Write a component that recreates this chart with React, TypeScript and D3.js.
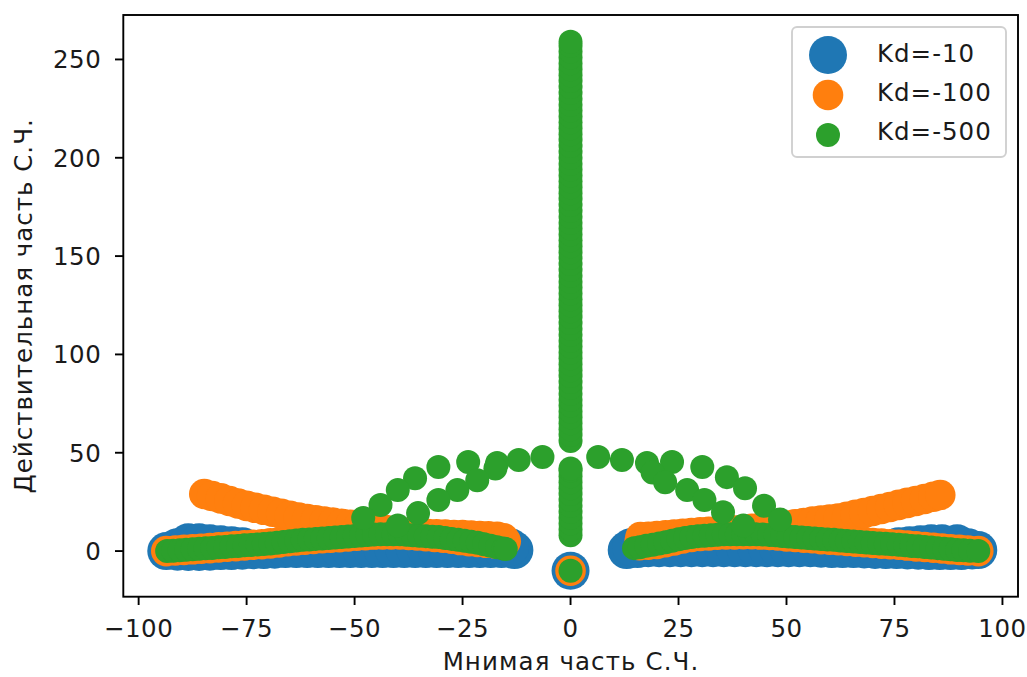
import React from 'react';
import * as d3 from 'd3';

// points are [imaginary part, real part]
const kd10Lower: [number, number][] = [
  [-93.6, 0], [-91, -0.3], [-88.5, -0.5], [-86, -0.5], [-83.5, -0.3], [-81, 0], [-78.5, 0],
  [-76, 0.2], [-73.5, 0.4], [-71, 0.5], [-68.5, 0.7], [-66, 1], [-63.5, 1], [-61, 1],
  [-58.5, 1], [-56, 1], [-53.5, 1], [-51, 1], [-48.5, 1], [-46, 1], [-43.5, 1], [-41, 1],
  [-38.5, 1], [-36, 1], [-33.5, 1], [-31, 1], [-28.5, 1], [-26, 1], [-23.5, 1], [-21, 1],
  [-18.5, 1], [-16, 1], [-13, 0.5],
  [13, 0.5], [15.5, 1], [18, 1.5], [20.5, 1.5], [23, 1.5], [25.5, 1.5], [28, 1.5], [30.5, 1.5],
  [33, 1.5], [35.5, 1.5], [38, 1.5], [40.5, 1.5], [43, 1.5], [45.5, 1.5], [48, 1.5], [50.5, 1.5],
  [53, 1.5], [55.5, 1.5], [58, 1.2], [60.5, 1], [63, 1], [65.5, 1], [68, 0.8], [70.5, 0.6],
  [73, 0.5], [75.5, 0.5], [78, 0.3], [80.5, 0.2], [83, 0], [85.5, 0], [88, 0], [90.5, 0],
  [93, 0.3], [94.4, 0.5],
];
const kd10Upper: [number, number][] = [
  [-91, 2], [-88.5, 4.5], [-86, 4.5], [-83.5, 4], [-81, 3.5], [-78.5, 3], [-76, 2.5], [-14, 2],
  [14, 2], [76, 2.5], [78.5, 3], [81, 3.5], [83.5, 4], [86, 4], [89.5, 4], [92, 2],
];
const kd10Center: [number, number][] = [[0, -10]];

const kd100Upper: [number, number][] = [
  [-84.8, 29], [-83, 28], [-81, 26.8], [-79, 25.5], [-77, 24.2], [-75, 23], [-73, 22], [-71, 21],
  [-69, 20], [-67, 19], [-65, 18], [-63, 17.1], [-61, 16.3], [-59, 15.6], [-57, 15], [-55, 14.5],
  [-53, 13.9], [-51, 13.3], [-49, 12.7], [-47, 12.1], [-45, 11.5], [-43, 10.8], [-41, 10.1],
  [-39, 9.6], [-37, 9.2], [-35, 8.9], [-33, 8.7], [-31, 8.5], [-29, 8.4], [-27, 8.2], [-25, 8.1],
  [-23, 7.9], [-21, 7.7], [-19, 7.5], [-17, 7.2], [-15.5, 6.5], [-15, 5],
  [16, 5], [16.2, 7.1], [18, 7.3], [20, 7.6], [22, 8], [24, 8.4], [26, 8.8], [28, 9.2], [30, 9.5],
  [32, 9.8], [34, 10], [36, 10.3], [38, 10.5], [40, 10.8], [42, 11.3], [44, 11.8], [46, 12.2],
  [48, 12.6], [50, 13], [52, 13.6], [54, 14.3], [56, 15], [58, 15.5], [60, 16], [62, 16.6],
  [64, 17.4], [66, 18.4], [68, 19.3], [70, 20.4], [72, 21.4], [74, 22.4], [76, 23.5], [78, 24.5],
  [80, 25.5], [82, 26.5], [84, 27.6], [85.6, 28.5],
];
const kd100Lower: [number, number][] = [
  [-93.6, 0], [-91.5, 0.3], [-89.5, 0.6], [-87.5, 0.9], [-85.5, 1.2], [-83.5, 1.5], [-81.5, 1.9],
  [-79.5, 2.2], [-77.5, 2.5], [-75.5, 2.9], [-73.5, 3.2], [-71.5, 3.5], [-69.5, 3.9], [-67.5, 4.4],
  [-65.5, 5], [-63.5, 5.4], [-61.5, 5.8], [-59.5, 6.2], [-57.5, 6.5], [-55.5, 6.8], [-53.5, 7.1],
  [-51.5, 7.4], [-49.5, 7.8], [-47.5, 8.1], [-45.5, 8.4], [-43.5, 8.5], [-41.5, 8.5], [-39.5, 8.5],
  [-37.5, 8.2], [-35.5, 7.9], [-33.5, 7.6], [-31.5, 7.2], [-29.5, 6.8], [-27.5, 6.3], [-25.5, 5.6],
  [-23.5, 5], [-21.5, 4.6], [-19.5, 4.2], [-17.5, 3.9], [-15.5, 3.6],
  [16, 3], [18, 3.2], [20, 3.6], [22, 4.5], [24, 5.4], [26, 6.4], [28, 7.2], [30, 7.7], [32, 8],
  [34, 8.3], [36, 8.5], [38, 8.5], [40, 8.6], [42, 8.6], [44, 8.4], [46, 8.2], [48, 7.9], [50, 7.5],
  [52, 7.2], [54, 6.8], [56, 6.5], [58, 6.1], [60, 5.8], [62, 5.5], [64, 5.1], [66, 4.8], [68, 4.5],
  [70, 4.1], [72, 3.8], [74, 3.5], [76, 3.2], [78, 2.8], [80, 2.4], [82, 2.1], [84, 1.7], [86, 1.3],
  [88, 0.9], [90, 0.6], [92, 0.3], [94.4, 0],
];
const kd100Center: [number, number][] = [[0, -10]];

const kd500Band: [number, number][] = [
  [-93.4, 0], [-92, 0.2], [-90.5, 0.4], [-89, 0.7], [-87.5, 0.9], [-86, 1.2], [-84.5, 1.4],
  [-83, 1.6], [-81.5, 1.9], [-80, 2.1], [-78.5, 2.4], [-77, 2.6], [-75.5, 2.9], [-74, 3.1],
  [-72.5, 3.4], [-71, 3.6], [-69.5, 3.9], [-68, 4.2], [-66.5, 4.6], [-65, 5], [-63.5, 5.4],
  [-62, 5.7], [-60.5, 5.9], [-59, 6.2], [-57.5, 6.4], [-56, 6.7], [-54.5, 6.9], [-53, 7.2],
  [-51.5, 7.4], [-50, 7.7], [-48.5, 7.9], [-47, 8.2], [-45.5, 8.4], [-44, 8.5], [-42.5, 8.5],
  [-41, 8.5], [-39.5, 8.5], [-38, 8.3], [-36.5, 8.1], [-35, 7.8], [-33.5, 7.6], [-32, 7.3],
  [-30.5, 7.1], [-29, 6.7], [-27.5, 6.2], [-26, 5.7], [-24.5, 5.2], [-23, 4.7], [-21.5, 4.2],
  [-20, 3.5], [-18.5, 2.7], [-17, 2], [-15.5, 1.3], [-15, 1],
  [14.7, 1.5], [16, 2], [17.5, 2.7], [19, 3.2], [20.5, 3.8], [22, 4.5], [23.5, 5.2], [25, 6],
  [26.5, 6.7], [28, 7.2], [29.5, 7.6], [31, 7.8], [32.5, 8.1], [34, 8.3], [35.5, 8.5], [37, 8.5],
  [38.5, 8.5], [40, 8.6], [41.5, 8.6], [43, 8.5], [44.5, 8.4], [46, 8.2], [47.5, 8], [49, 7.7],
  [50.5, 7.4], [52, 7.2], [53.5, 6.9], [55, 6.7], [56.5, 6.4], [58, 6.1], [59.5, 5.9], [61, 5.7],
  [62.5, 5.4], [64, 5.1], [65.5, 4.9], [67, 4.6], [68.5, 4.4], [70, 4.1], [71.5, 3.9], [73, 3.7],
  [74.5, 3.5], [76, 3.2], [77.5, 2.9], [79, 2.6], [80.5, 2.4], [82, 2.1], [83.5, 1.8], [85, 1.5],
  [86.5, 1.2], [88, 0.9], [89.5, 0.6], [91, 0.4], [92.5, 0.2], [94.4, 0],
];
const kd500Arcs: [number, number][] = [
  [-6.5, 47.8], [-12, 46.3], [-17, 44.8], [-23.7, 45.3], [-30.6, 42.7], [-36, 37], [-40, 31],
  [-44, 23.4], [-48, 16.8],
  [-17.4, 42], [-21.6, 36], [-26.2, 31], [-30.6, 26], [-35.3, 19.3], [-40, 13],
  [6.4, 47.8], [11.9, 46.3], [17.7, 44.8], [23.5, 45.3], [30.5, 42.7], [36.2, 37.6],
  [40.4, 32], [44.8, 23], [48.5, 16],
  [19, 40], [21.9, 35], [27, 31], [31, 26], [35.3, 19.8], [40, 13],
];
// real parts of the roots lying on the imaginary-zero axis
const kd500RealAxis: number[] = [
  8, 11, 14, 17, 20, 23, 26, 29, 32, 35, 38, 41, 42,
  56, 59, 62, 65, 68, 71, 74, 77, 80, 83, 86, 89, 92, 95, 98, 101, 104, 107, 110, 113, 116, 119,
  122, 125, 128, 131, 134, 137, 140, 143, 146, 149, 152, 155, 158, 161, 164, 167, 170, 173, 176,
  179, 182, 185, 188, 191, 194, 197, 200, 203, 206, 209, 212, 215, 218, 221, 224, 227, 230, 233,
  236, 239, 242, 245, 248, 251, 254, 257, 259, -10,
];

const xTicks = [-100, -75, -50, -25, 0, 25, 50, 75, 100];
const yTicks = [0, 50, 100, 150, 200, 250];
const seriesLabels = ['Kd=-10', 'Kd=-100', 'Kd=-500'];
const seriesColors = ['#1f77b4', '#ff7f0e', '#2ca02c'];
const markerRadius = [19, 15.3, 12];

const font = "'DejaVu Sans', sans-serif";
const fs = 24.5;

const App = () => {
  const left = 123.3, right = 1018, top = 15, bottom = 596.7;
  const x = d3.scaleLinear().domain([-103.55, 103.6]).range([left, right]);
  const y = d3.scaleLinear().domain([-23.2, 272.6]).range([bottom, top]);

  const series: [number, number][][] = [
    [...kd10Lower, ...kd10Upper, ...kd10Center],
    [...kd100Lower, ...kd100Upper, ...kd100Center],
    [...kd500Band, ...kd500Arcs, ...kd500RealAxis.map(v => [0, v] as [number, number])],
  ];

  const minus = (v: number) => (v < 0 ? '\u2212' + Math.abs(v) : String(v));

  return (
    <svg width={1027} height={677} style={{ position: 'absolute', left: 0, top: 0, background: '#fff' }}>
      <rect x={0} y={0} width={1027} height={677} fill="#fff" />
      <defs>
        <clipPath id="plot">
          <rect x={left} y={top} width={right - left} height={bottom - top} />
        </clipPath>
      </defs>
      <g clipPath="url(#plot)">
        {series.map((pts, s) => (
          <g key={s} fill={seriesColors[s]}>
            {pts.map((p, i) => (
              <circle key={i} cx={x(p[0])} cy={y(p[1])} r={markerRadius[s]} />
            ))}
          </g>
        ))}
      </g>

      <rect x={left} y={top} width={right - left} height={bottom - top} fill="none" stroke="#000" strokeWidth={1.9} />

      <g fontFamily={font} fontSize={fs} fill="#1a1a1a">
        {xTicks.map(t => (
          <g key={t} transform={`translate(${x(t)},${bottom})`}>
            <line y2={8.3} stroke="#000" strokeWidth={1.9} />
            <text y={40} textAnchor="middle" letterSpacing={0.5}>{minus(t)}</text>
          </g>
        ))}
        {yTicks.map(t => (
          <g key={t} transform={`translate(${left},${y(t)})`}>
            <line x2={-8.3} stroke="#000" strokeWidth={1.9} />
            <text x={-22} y={8.8} textAnchor="end" letterSpacing={0.5}>{t}</text>
          </g>
        ))}
        <text x={571} y={670} textAnchor="middle" letterSpacing={1.1}>Мнимая часть С.Ч.</text>
        <text transform={`translate(32,${(top + bottom) / 2}) rotate(-90)`} textAnchor="middle" letterSpacing={1}>
          Действительная часть С.Ч.
        </text>
      </g>

      <g>
        <rect x={792} y={27} width={214} height={130} rx={5} fill="#fff" fillOpacity={0.8} stroke="#d0d0d0" strokeWidth={1.9} />
        {seriesLabels.map((lab, i) => (
          <g key={lab}>
            <circle cx={828} cy={55 + i * 40} r={markerRadius[i]} fill={seriesColors[i]} />
            <text x={877} y={62 + i * 39} fontFamily={font} fontSize={fs} letterSpacing={1} fill="#1a1a1a">{lab}</text>
          </g>
        ))}
      </g>
    </svg>
  );
};

export default App;
